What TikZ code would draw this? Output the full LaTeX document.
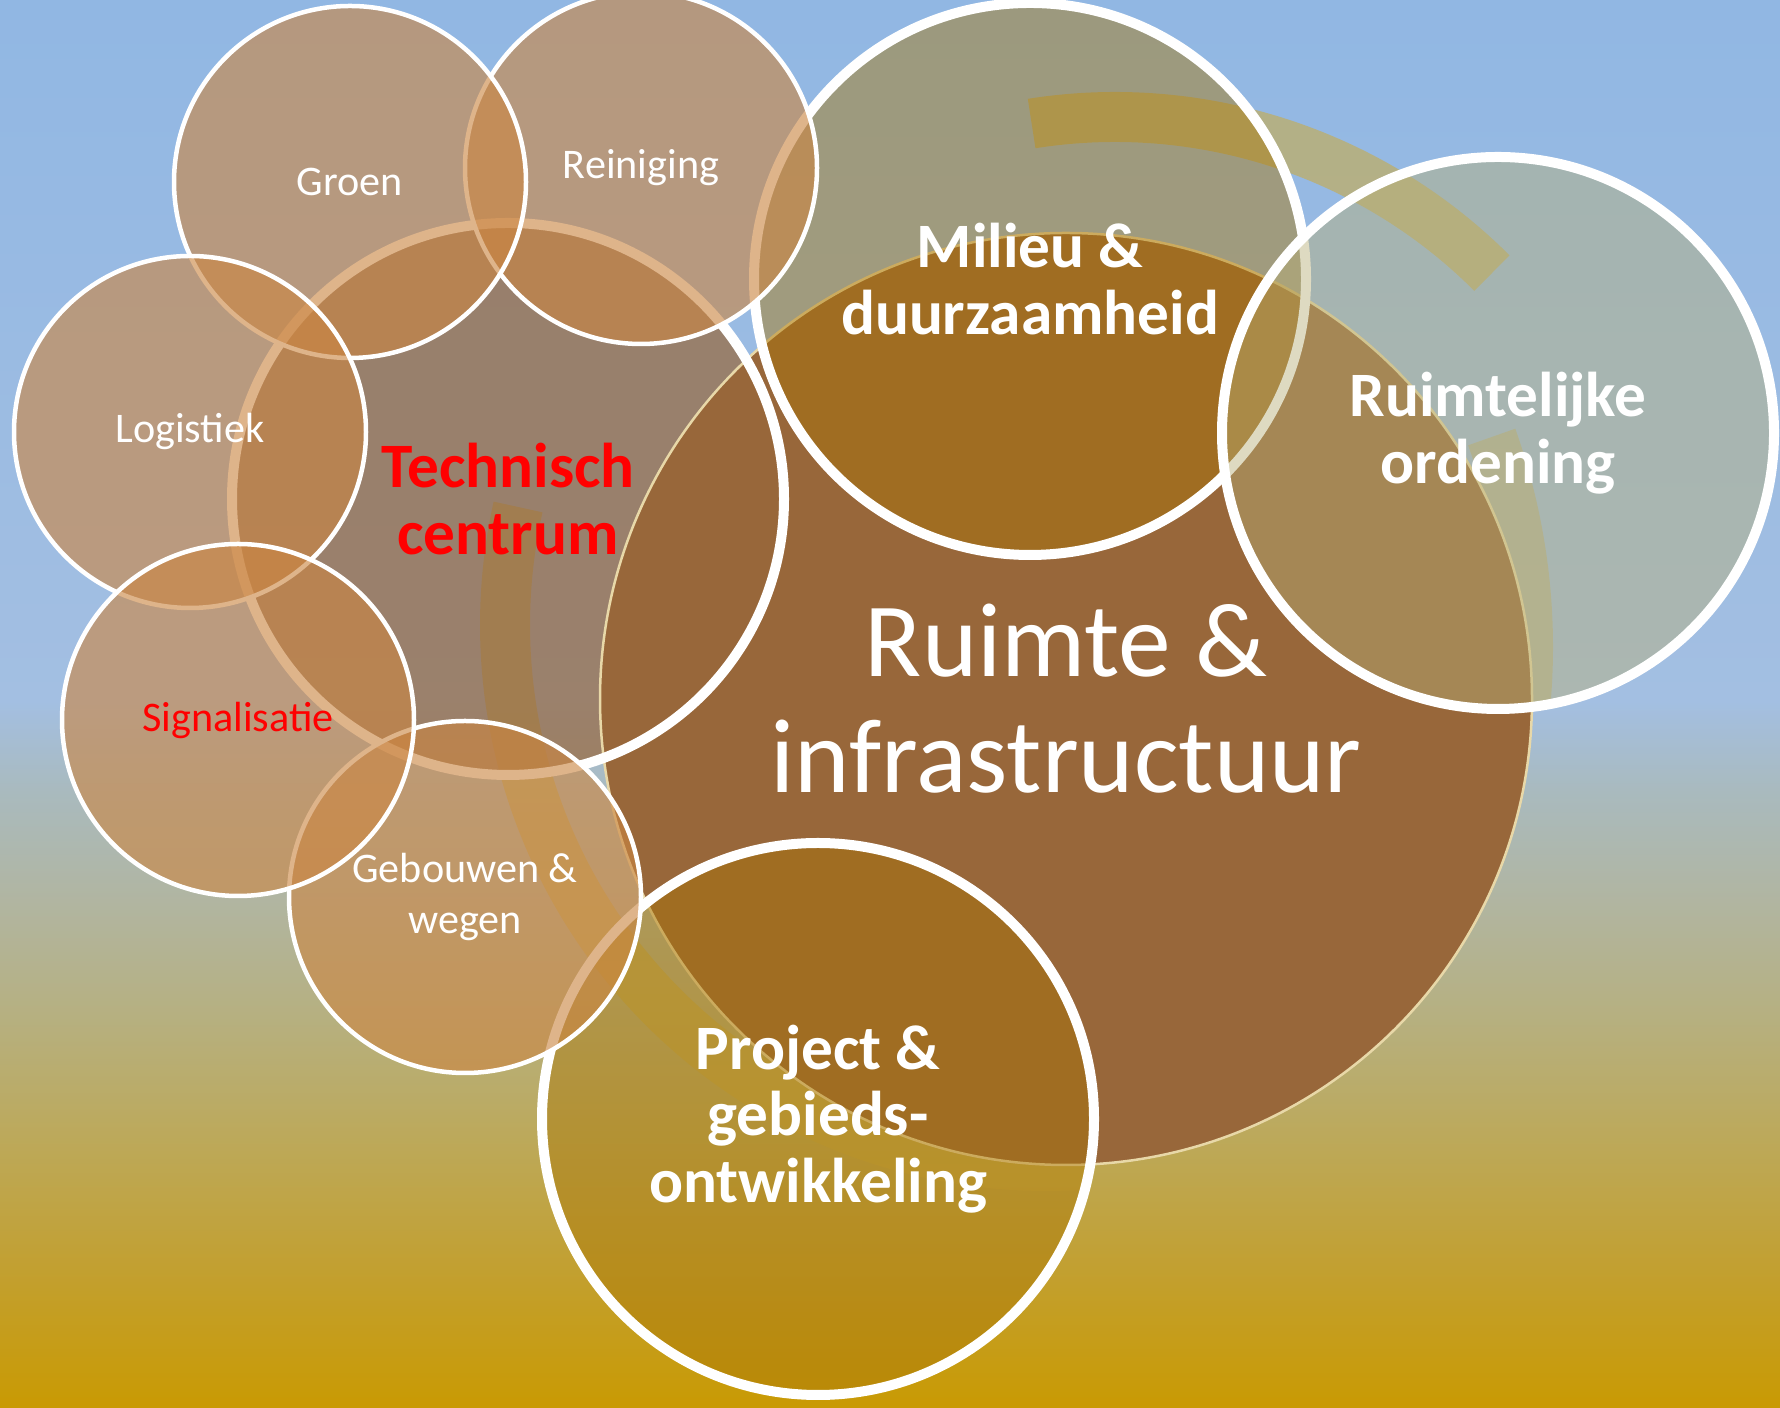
\documentclass[tikz,border=0pt]{standalone}
\usepackage{fontspec}
\setmainfont{Carlito}
\usetikzlibrary{positioning}

\definecolor{skytop}{RGB}{145,183,227}
\definecolor{skylow}{RGB}{163,191,226}
\definecolor{hazeblue}{RGB}{169,186,190}
\definecolor{haze}{RGB}{177,181,160}
\definecolor{groundA}{RGB}{182,176,128}
\definecolor{groundB}{RGB}{189,168,86}
\definecolor{groundC}{RGB}{194,160,50}
\definecolor{groundD}{RGB}{201,154,3}
\definecolor{earth}{RGB}{152,103,58}
\definecolor{ochre}{RGB}{170,118,5}
\definecolor{khaki}{RGB}{183,174,118}
\definecolor{sand}{RGB}{203,134,67}
\definecolor{bandcol}{RGB}{200,171,72}
\definecolor{cream}{RGB}{232,216,168}

\pgfdeclareverticalshading{skyground}{100bp}{color(0bp)=(groundD); color(25bp)=(groundD);
  color(30.1bp)=(groundC); color(34.1bp)=(groundB); color(38.9bp)=(groundA);
  color(42.9bp)=(haze); color(46.9bp)=(hazeblue); color(50.1bp)=(skylow);
  color(75bp)=(skytop); color(100bp)=(skytop)}

\begin{document}
\begin{tikzpicture}[x=0.1mm,y=0.1mm,
    band/.style={draw=bandcol,draw opacity=0.6,line width=5mm},
    small node/.style={circle,draw=white,line width=0.45mm,fill=sand,
      fill opacity=0.62,text opacity=1,minimum size=35.2mm,inner sep=0pt,
      align=center,text=white,font=\fontsize{12}{14.5}\selectfont},
    big node/.style={circle,draw=white,line width=1mm,fill opacity=0.45,
      text opacity=1,minimum size=55.2mm,inner sep=0pt,align=center,
      text=white,font=\fontsize{18}{19}\selectfont\bfseries}]

  \clip (0,0) rectangle (1780,1408);
  \shade[shading=skyground] (0,0) rectangle (1780,1408);

  % circular bands
  \draw[band] ([shift={(99:533)}]1115,758) arc[start angle=99,end angle=45,radius=533];
  \draw[band,draw opacity=0.4] ([shift={(19.6:626)}]902,761) arc[start angle=19.6,end angle=-5,radius=626];
  \draw[band] ([shift={(167.4:541)}]1046,783) arc[start angle=167.4,end angle=274.3,radius=541];

  \fill[earth,fill opacity=0.7] (508,909) circle[radius=276];

  \node[circle,draw=cream,line width=0.25mm,fill=earth,minimum size=93.2mm,
    inner sep=0pt,align=center,text=white,font=\fontsize{30}{33}\selectfont]
    (ruimte) at (1066,709) {Ruimte \&\\infrastructuur};

  \node[big node,fill=ochre] (milieu) at (1030,1129) {Milieu \&\\duurzaamheid};
  \node[big node,fill=khaki] (ordening) at (1498,975) {Ruimtelijke\\ordening};
  \node[big node,fill=ochre] (project) at (818,289) {Project \&\\gebieds-\\ontwikkeling};

  \node[big node,text=red,fill=none] (technisch) at (508,909) {Technisch\\centrum};

  % around the technical centre
  \node[small node] (reiniging) at (641,1240) {Reiniging};
  \node[small node] (groen) at (350,1226) {Groen};
  \node[small node] (logistiek) at (190,976) {Logistiek};
  \node[small node] (gebouwen) at (465,511) {Gebouwen \&\\wegen};
  \node[small node,text=red] (signalisatie) at (238,688) {Signalisatie};
\end{tikzpicture}
\end{document}
